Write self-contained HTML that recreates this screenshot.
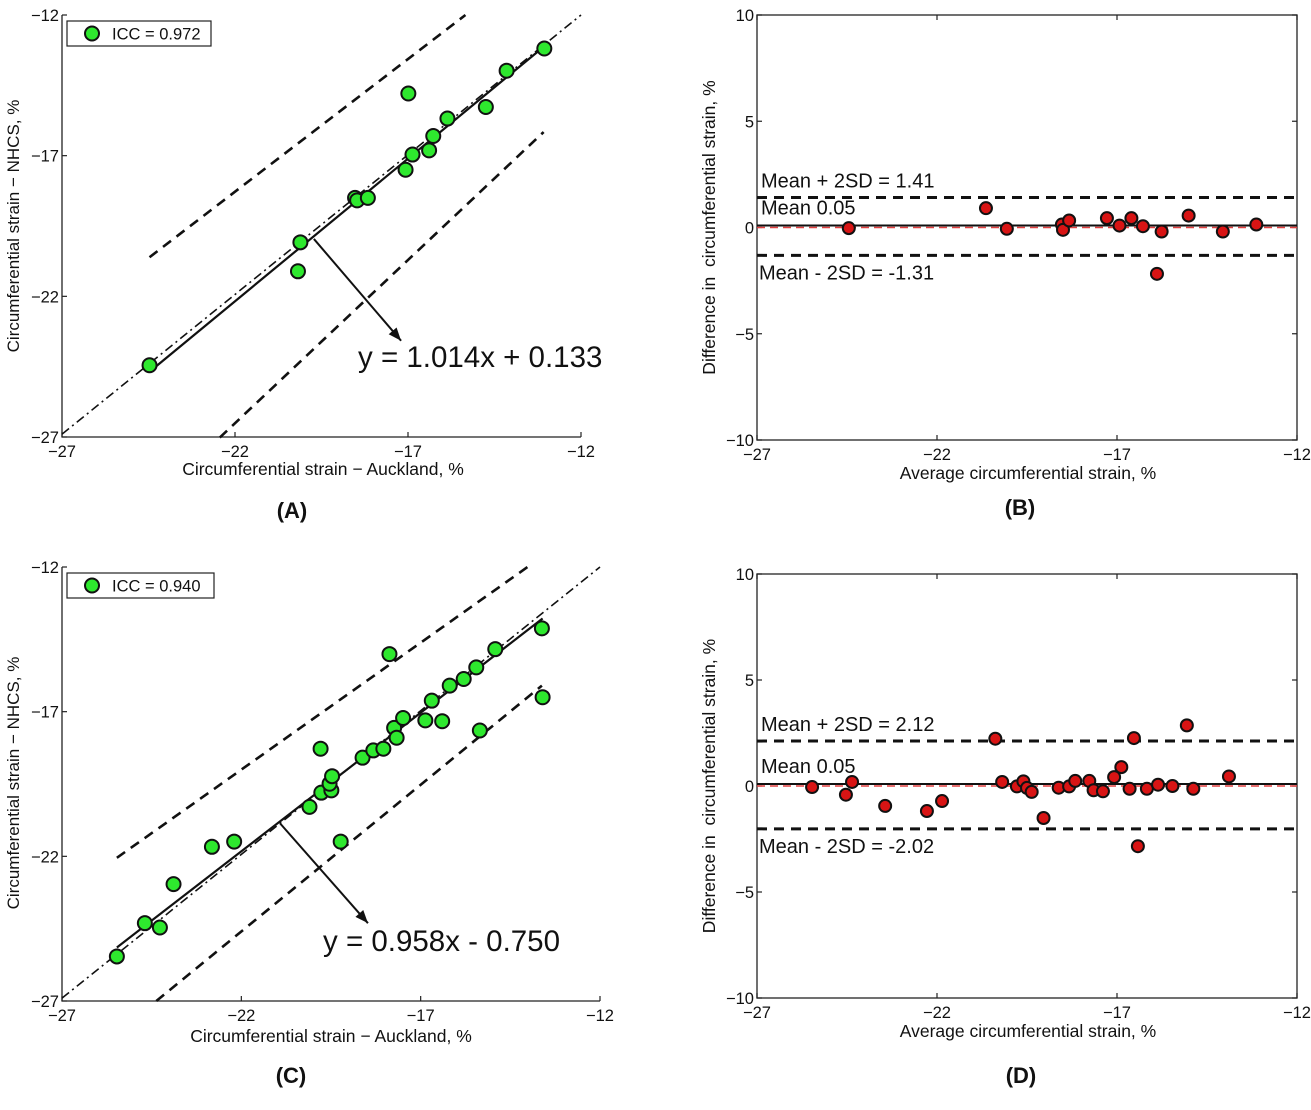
<!DOCTYPE html>
<html><head><meta charset="utf-8"><style>
html,body{margin:0;padding:0;background:#fff;}
svg{display:block;font-family:"Liberation Sans",sans-serif;}
</style></head><body>
<svg id="fig" width="1311" height="1110" viewBox="0 0 1311 1110" xmlns="http://www.w3.org/2000/svg"></svg>
<script>
// ---------- DATA ----------
const corrTicks = [-27, -22, -17, -12];
const baXTicks = [-27, -22, -17, -12];
const baYTicks = [-10, -5, 0, 5, 10];

const aAuckland = [-24.47,-20.11,-20.18,-18.53,-18.47,-18.16,-17.07,-16.87,-16.99,-16.39,-16.27,-15.86,-14.75,-14.15,-13.06];
const aNHCS     = [-24.45,-20.08,-21.11,-18.50,-18.59,-18.50,-17.50,-16.96,-14.79,-16.81,-16.30,-15.68,-15.27,-13.98,-13.19];
const aFit = [1.014, 0.133];
const aUpperLine = [-24.47,-20.61,-15.34,-12.0];
const aLowerLine = [-22.44,-27.02,-13.08,-16.16];
const aArrow = [-19.72,-19.96,-17.2,-23.58];
const aIcc = "ICC = 0.972";
const aEq = "y = 1.014x + 0.133";

const cAuckland = [-25.47,-24.69,-24.27,-23.89,-22.82,-22.20,-20.10,-19.79,-19.77,-19.49,-19.54,-19.47,-19.23,-18.62,-18.32,-18.04,-17.87,-17.74,-17.67,-17.49,-16.87,-16.69,-16.40,-16.19,-15.80,-15.45,-15.35,-14.92,-13.62,-13.60];
const cNHCS     = [-25.46,-24.31,-24.46,-22.96,-21.67,-21.49,-20.29,-18.28,-19.80,-19.72,-19.49,-19.23,-21.49,-18.59,-18.34,-18.28,-15.01,-17.56,-17.90,-17.22,-17.30,-16.62,-17.33,-16.10,-15.87,-15.47,-17.65,-14.84,-14.12,-16.50];
const cFit = [0.958, -0.750];
const cUpperLine = [-25.47,-22.05,-14.02,-12.0];
const cLowerLine = [-24.37,-27.0,-13.62,-16.10];
const cArrow = [-20.92,-20.86,-18.47,-24.31];
const cIcc = "ICC = 0.940";
const cEq = "y = 0.958x - 0.750";

const bAverage = [-24.45,-20.64,-20.06,-18.53,-18.50,-18.33,-17.28,-16.93,-16.60,-16.28,-15.76,-15.89,-15.01,-14.06,-13.13];
const bDiff    = [-0.03,0.91,-0.06,0.14,-0.11,0.33,0.44,0.09,0.44,0.06,-0.19,-2.18,0.56,-0.19,0.14];
const bStats = [0.05, 1.41, -1.31];

const dAverage = [-25.47,-24.53,-24.36,-23.44,-22.28,-21.86,-20.38,-20.19,-19.78,-19.60,-19.50,-19.37,-19.04,-18.62,-18.33,-18.16,-17.77,-17.65,-17.39,-17.08,-16.88,-16.65,-16.53,-16.42,-16.17,-15.86,-15.46,-15.06,-14.88,-13.89];
const dDiff    = [-0.05,-0.41,0.19,-0.94,-1.18,-0.71,2.23,0.19,-0.02,0.22,-0.09,-0.28,-1.51,-0.08,-0.02,0.24,0.24,-0.20,-0.25,0.42,0.89,-0.13,2.26,-2.84,-0.13,0.06,0.00,2.86,-0.13,0.45];
const dStats = [0.05, 2.12, -2.02];

// ---------- DRAWING ----------
const NS = "http://www.w3.org/2000/svg";
const svg = document.getElementById('fig');
function mk(tag, attrs, parent, text) {
  const e = document.createElementNS(NS, tag);
  for (const k in attrs) e.setAttribute(k, attrs[k]);
  if (text !== undefined) e.textContent = text;
  (parent || svg).appendChild(e);
  return e;
}
function fmt(v){ return v < 0 ? "\u2212" + Math.abs(v) : String(v); }

function axes(box, xd, yd) {
  return {
    x: v => box.l + (v - xd[0]) / (xd[1] - xd[0]) * (box.r - box.l),
    y: v => box.b - (v - yd[0]) / (yd[1] - yd[0]) * (box.b - box.t)
  };
}

function drawCorr(id, box, xs, ys, fit, up, lo, arrow, icc, eq, eqPos, xlab, xlabPos, ylabPos, title, titlePos, legX) {
  const g = mk('g', {});
  
  
  const ax = axes(box, [-27, -12], [-27, -12]);
  const axl = mk('path', {d:`M${box.l},${box.t} L${box.l},${box.b} L${box.r},${box.b}`, fill:'none', stroke:'#222', 'stroke-width':1.3}, g);
  
  
  corrTicks.forEach(t => {
    mk('line', {x1:ax.x(t), y1:box.b, x2:ax.x(t), y2:box.b-5, stroke:'#222','stroke-width':1.2}, g);
    mk('line', {x1:box.l, y1:ax.y(t), x2:box.l+5, y2:ax.y(t), stroke:'#222','stroke-width':1.2}, g);
    const xt = mk('text', {x:ax.x(t), y:box.b+20, 'font-size':16.5, 'text-anchor':'middle', fill:'#111'}, g, fmt(t));
    
    
    const yt = mk('text', {x:box.l-3, y:ax.y(t)+6, 'font-size':16.5, 'text-anchor':'end', fill:'#111'}, g, fmt(t));
    
    
  });
  const idl = mk('line', {x1:ax.x(-27), y1:ax.y(-26.9), x2:ax.x(-12), y2:ax.y(-12), stroke:'#111','stroke-width':1.6,'stroke-dasharray':'9,4,2,4'}, g);
  
  
  [up, lo].forEach((L, i) => {
    const dl = mk('line', {x1:ax.x(L[0]), y1:ax.y(L[1]), x2:ax.x(L[2]), y2:ax.y(L[3]), stroke:'#111','stroke-width':2.6,'stroke-dasharray':'10,7'}, g);
    
    
  });
  const xmin = Math.min(...xs), xmax = Math.max(...xs);
  const fl = mk('line', {x1:ax.x(xmin), y1:ax.y(fit[0]*xmin+fit[1]), x2:ax.x(xmax), y2:ax.y(fit[0]*xmax+fit[1]), stroke:'#111','stroke-width':2.2}, g);
  
  
  xs.forEach((v, i) => {
    const c = mk('circle', {cx:ax.x(v), cy:ax.y(ys[i]), r:7, fill:'#2ee82e', stroke:'#111','stroke-width':2}, g);
    
    
  });
  const x1 = ax.x(arrow[0]), y1 = ax.y(arrow[1]), x2 = ax.x(arrow[2]), y2 = ax.y(arrow[3]);
  const ar = mk('line', {x1, y1, x2, y2, stroke:'#111','stroke-width':2}, g);
  
  
  const ang = Math.atan2(y2 - y1, x2 - x1), L = 14, w = 0.38;
  mk('polygon', {points:`${x2},${y2} ${x2-L*Math.cos(ang-w)},${y2-L*Math.sin(ang-w)} ${x2-L*Math.cos(ang+w)},${y2-L*Math.sin(ang+w)}`, fill:'#111'}, g);
  const et = mk('text', {x:eqPos[0], y:eqPos[1], 'font-size':29.5, fill:'#111'}, g, eq);
  
  
  const lg = mk('g', {}, g);
  
  
  mk('rect', {x:box.l+5, y:box.t+6, width:legX, height:25, fill:'#fff', stroke:'#222','stroke-width':1.2}, lg);
  mk('circle', {cx:box.l+30, cy:box.t+18.5, r:7, fill:'#2ee82e', stroke:'#111','stroke-width':2}, lg);
  mk('text', {x:box.l+50, y:box.t+24.5, 'font-size':16.5, fill:'#111'}, lg, icc);
  const xl = mk('text', {x:xlabPos[0], y:xlabPos[1], 'font-size':17.5, 'text-anchor':'middle', fill:'#111'}, g, xlab);
  
  
  const yl = mk('text', {x:0, y:0, 'font-size':17, 'text-anchor':'middle', fill:'#111', transform:`translate(${ylabPos[0]},${ylabPos[1]}) rotate(-90)`}, g, 'Circumferential strain \u2212 NHCS, %');
  
  
  const tt = mk('text', {x:titlePos[0], y:titlePos[1], 'font-size':22, 'font-weight':'bold', 'text-anchor':'middle', fill:'#111'}, g, title);
  
  
}

function drawBA(id, box, xs, ys, stats, xlabY, ylabX, title, titlePos) {
  const g = mk('g', {});
  
  
  const ax = axes(box, [-27, -12], [-10, 10]);
  const fr = mk('rect', {x:box.l, y:box.t, width:box.r-box.l, height:box.b-box.t, fill:'none', stroke:'#333','stroke-width':1.4}, g);
  
  
  baXTicks.forEach(t => {
    mk('line', {x1:ax.x(t), y1:box.b, x2:ax.x(t), y2:box.b-5, stroke:'#222','stroke-width':1.2}, g);
    mk('line', {x1:ax.x(t), y1:box.t, x2:ax.x(t), y2:box.t+5, stroke:'#222','stroke-width':1.2}, g);
    const xt = mk('text', {x:ax.x(t), y:box.b+20, 'font-size':16.5, 'text-anchor':'middle', fill:'#111'}, g, fmt(t));
    
    
  });
  baYTicks.forEach(t => {
    mk('line', {x1:box.l, y1:ax.y(t), x2:box.l+5, y2:ax.y(t), stroke:'#222','stroke-width':1.2}, g);
    mk('line', {x1:box.r, y1:ax.y(t), x2:box.r-5, y2:ax.y(t), stroke:'#222','stroke-width':1.2}, g);
    const yt = mk('text', {x:box.l-3, y:ax.y(t)+6, 'font-size':16.5, 'text-anchor':'end', fill:'#111'}, g, fmt(t));
    
    
  });
  const z = mk('line', {x1:box.l, y1:ax.y(0), x2:box.r, y2:ax.y(0), stroke:'#e04040','stroke-width':1.5,'stroke-dasharray':'8,5'}, g);
  
  
  const m = mk('line', {x1:box.l, y1:ax.y(stats[0])-1, x2:box.r, y2:ax.y(stats[0])-1, stroke:'#111','stroke-width':2}, g);
  
  
  [1, 2].forEach(k => {
    const l = mk('line', {x1:box.l, y1:ax.y(stats[k]), x2:box.r, y2:ax.y(stats[k]), stroke:'#111','stroke-width':3,'stroke-dasharray':'10,7'}, g);
    
    
  });
  const t1 = mk('text', {x:box.l+4, y:ax.y(stats[1])-10, 'font-size':20, fill:'#111'}, g, 'Mean + 2SD = ' + stats[1].toFixed(2));
  
  
  const t2 = mk('text', {x:box.l+4, y:ax.y(stats[0])-12, 'font-size':20, fill:'#111'}, g, 'Mean ' + stats[0].toFixed(2));
  
  
  const t3 = mk('text', {x:box.l+2, y:ax.y(stats[2])+24, 'font-size':20, fill:'#111'}, g, 'Mean - 2SD = ' + stats[2].toFixed(2));
  
  
  xs.forEach((v, i) => {
    const c = mk('circle', {cx:ax.x(v), cy:ax.y(ys[i]), r:6, fill:'#d81414', stroke:'#111','stroke-width':2}, g);
    
    
  });
  const xl = mk('text', {x:1028, y:xlabY, 'font-size':17.5, 'text-anchor':'middle', fill:'#111'}, g, 'Average circumferential strain, %');
  
  
  const cy = (box.t + box.b) / 2;
  const yl = mk('text', {x:0, y:0, 'font-size':17.5, 'text-anchor':'middle', fill:'#111', transform:`translate(${ylabX},${cy}) rotate(-90)`}, g, 'Difference in \u00a0circumferential strain, %');
  
  
  const tt = mk('text', {x:titlePos[0], y:titlePos[1], 'font-size':22, 'font-weight':'bold', 'text-anchor':'middle', fill:'#111'}, g, title);
  
  
}

drawCorr('panel-a', {l:62,r:581,t:15,b:437}, aAuckland, aNHCS, aFit, aUpperLine, aLowerLine, aArrow, aIcc, aEq, [358,367], 'Circumferential strain \u2212 Auckland, %', [323,475], [19,226], '(A)', [292,518], 144);
drawCorr('panel-c', {l:62,r:600,t:567,b:1001}, cAuckland, cNHCS, cFit, cUpperLine, cLowerLine, cArrow, cIcc, cEq, [323,951], 'Circumferential strain \u2212 Auckland, %', [331,1042], [19,783], '(C)', [291,1083], 147);
drawBA('panel-b', {l:757,r:1297,t:15,b:440}, bAverage, bDiff, bStats, 479, 715, '(B)', [1020,515]);
drawBA('panel-d', {l:757,r:1297,t:574,b:998}, dAverage, dDiff, dStats, 1037, 715, '(D)', [1021,1083]);
</script>
</body></html>
